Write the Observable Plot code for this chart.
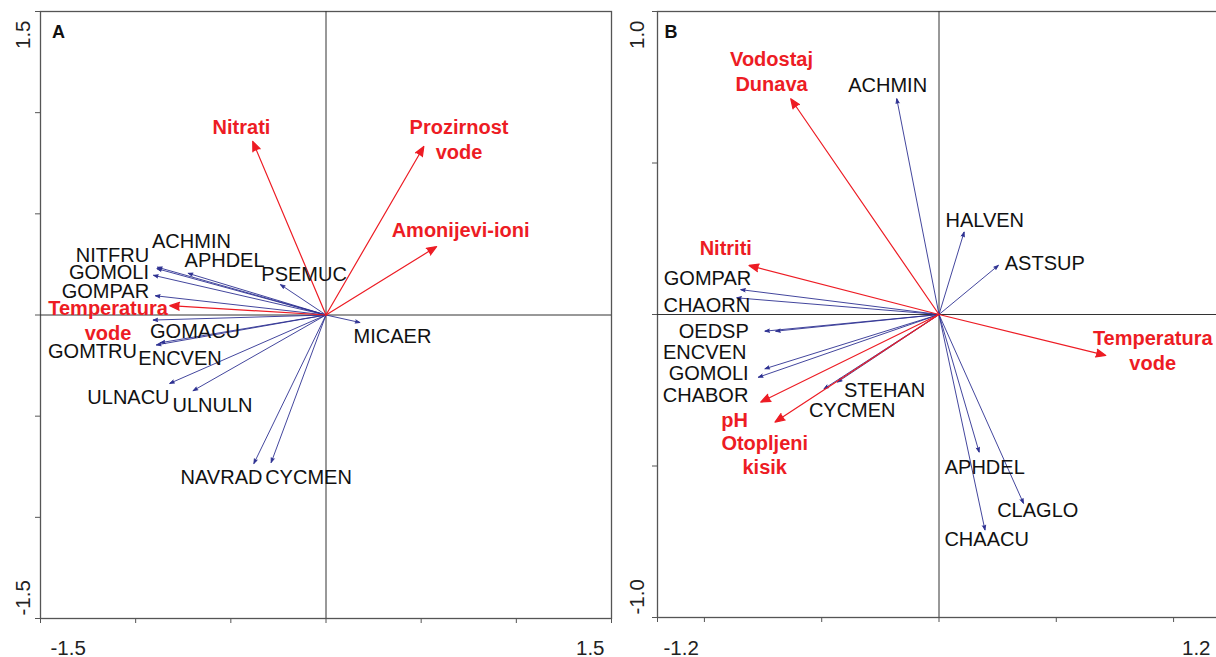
<!DOCTYPE html>
<html>
<head>
<meta charset="utf-8">
<script src="https://cdn.jsdelivr.net/npm/d3@7"></script>
<script src="https://cdn.jsdelivr.net/npm/@observablehq/plot@0.6"></script>
<style>
  html, body { margin: 0; padding: 0; background: #fff; width: 1216px; height: 657px; overflow: hidden; position: relative; }
  .panel { position: absolute; top: 0; height: 657px; }
  .panel svg { max-width: none !important; display: block; }
  #panelA { left: 0; width: 620px; }
  #panelB { left: 620px; width: 605px; }
</style>
</head>
<body>
<div id="panelA" class="panel"></div>
<div id="panelB" class="panel"></div>
<script>
// ---- Panel A: species vectors (tip x, y) and label anchors (lx, ly), axis units ----
const speciesA = [
  { name: "ACHMIN", x: -0.885, y: 0.236, lx: -0.707, ly: 0.365 },
  { name: "NITFRU", x: -0.888, y: 0.229, lx: -1.122, ly: 0.293 },
  { name: "GOMOLI", x: -0.906, y: 0.196, lx: -1.140, ly: 0.212 },
  { name: "APHDEL", x: -0.724, y: 0.206, lx: -0.533, ly: 0.271 },
  { name: "PSEMUC", x: -0.239, y: 0.150, lx: -0.115, ly: 0.202 },
  { name: "GOMPAR", x: -0.896, y: 0.095, lx: -1.159, ly: 0.118 },
  { name: "GOMACU", x: -0.908, y: -0.025, lx: -0.688, ly: -0.080 },
  { name: "GOMTRU", x: -0.891, y: -0.148, lx: -1.227, ly: -0.179 },
  { name: "ENCVEN", x: -0.870, y: -0.137, lx: -0.767, ly: -0.214 },
  { name: "ULNACU", x: -0.821, y: -0.338, lx: -1.038, ly: -0.406 },
  { name: "ULNULN", x: -0.698, y: -0.374, lx: -0.596, ly: -0.446 },
  { name: "NAVRAD", x: -0.379, y: -0.734, lx: -0.549, ly: -0.804 },
  { name: "CYCMEN", x: -0.288, y: -0.729, lx: -0.092, ly: -0.804 },
  { name: "MICAER", x: 0.178, y: -0.037, lx: 0.349, ly: -0.107 }
];

// ---- Panel A: environmental variables ----
const envA = [
  { name: "Nitrati", x: -0.385, y: 0.858, lx: -0.444, ly: 0.931 },
  { name: "Prozirnost\nvode", x: 0.514, y: 0.833, lx: 0.699, ly: 0.871 },
  { name: "Amonijevi-ioni", x: 0.581, y: 0.338, lx: 0.707, ly: 0.422 },
  { name: "Temperatura\nvode", x: -0.821, y: 0.046, lx: -1.145, ly: -0.023 }
];

// ---- Panel B: species vectors ----
const speciesB = [
  { name: "ACHMIN", x: -0.180, y: 0.712, lx: -0.219, ly: 0.754 },
  { name: "HALVEN", x: 0.107, y: 0.272, lx: 0.195, ly: 0.310 },
  { name: "ASTSUP", x: 0.253, y: 0.162, lx: 0.451, ly: 0.167 },
  { name: "GOMPAR", x: -0.845, y: 0.082, lx: -0.987, ly: 0.120 },
  { name: "CHAORN", x: -0.862, y: 0.055, lx: -0.990, ly: 0.028 },
  { name: "OEDSP", x: -0.696, y: -0.055, lx: -0.960, ly: -0.056 },
  { name: "ENCVEN", x: -0.742, y: -0.055, lx: -0.999, ly: -0.125 },
  { name: "GOMOLI", x: -0.742, y: -0.179, lx: -0.982, ly: -0.195 },
  { name: "CHABOR", x: -0.770, y: -0.207, lx: -0.995, ly: -0.267 },
  { name: "STEHAN", x: -0.433, y: -0.223, lx: -0.232, ly: -0.251 },
  { name: "CYCMEN", x: -0.490, y: -0.245, lx: -0.370, ly: -0.317 },
  { name: "APHDEL", x: 0.171, y: -0.454, lx: 0.195, ly: -0.504 },
  { name: "CLAGLO", x: 0.360, y: -0.623, lx: 0.421, ly: -0.647 },
  { name: "CHAACU", x: 0.196, y: -0.711, lx: 0.203, ly: -0.744 }
];

// ---- Panel B: environmental variables ----
const envB = [
  { name: "Vodostaj\nDunava", x: -0.632, y: 0.712, lx: -0.714, ly: 0.805 },
  { name: "Nitriti", x: -0.810, y: 0.162, lx: -0.909, ly: 0.221 },
  { name: "Temperatura\nvode", x: 0.711, y: -0.135, lx: 0.911, ly: -0.116 },
  { name: "pH", x: -0.760, y: -0.289, lx: -0.871, ly: -0.347 },
  { name: "Otopljeni\nkisik", x: -0.699, y: -0.355, lx: -0.743, ly: -0.462 }
];

// ---- Axis domains and tick positions ----
const domainA = [-1.5, 1.5];
const ticksA = [-1.5, -1, -0.5, 0, 0.5, 1, 1.5];
const domainBX = [-1.2, 1.2];
const domainBY = [-1, 1];
const ticksBX = [-1.2, -1, -0.5, 0, 0.5, 1, 1.2];
const ticksBY = [-1, -0.5, 0, 0.5, 1];

const BLUE = "#2e3192";
const RED = "#ed1c24";
const LINE = "#555555";
const INK = "#111111";
const FONT = "'Liberation Sans', Arial, Helvetica, sans-serif";

function biplot(o) {
  const fmt = (v) => v.toFixed(1);
  const tickText = { fontSize: 20.5, fill: "#222", lineAnchor: "middle" };
  return Plot.plot({
    width: o.width,
    height: 657,
    marginLeft: o.ml,
    marginRight: o.mr,
    marginTop: 11,
    marginBottom: o.mb,
    x: { domain: o.xDomain, label: null },
    y: { domain: o.yDomain, label: null },
    style: { fontFamily: FONT, background: "transparent", overflow: "visible" },
    marks: [
      Plot.frame({ stroke: LINE, strokeWidth: 1.3 }),
      Plot.ruleX([0], { stroke: "#333", strokeWidth: 1 }),
      Plot.ruleY([0], { stroke: "#333", strokeWidth: 1 }),
      Plot.axisX(o.xTicks, { tickSize: 5, tickFormat: () => "", label: null, stroke: LINE }),
      Plot.axisY(o.yTicks, { tickSize: 5, tickFormat: () => "", label: null, stroke: LINE }),
      // species vectors
      Plot.arrow(o.species, {
        x1: 0, y1: 0, x2: "x", y2: "y",
        stroke: BLUE, fill: BLUE, strokeWidth: 0.9,
        headLength: 8, headAngle: 40
      }),
      // environmental vectors
      Plot.arrow(o.env, {
        x1: 0, y1: 0, x2: "x", y2: "y",
        stroke: RED, fill: RED, strokeWidth: 1.2,
        headLength: 13, headAngle: 44
      }),
      Plot.text(o.species, { x: "lx", y: "ly", text: "name", fontSize: 20, fill: INK }),
      Plot.text(o.env, {
        x: "lx", y: "ly", text: "name", fontSize: 20, fontWeight: "bold",
        fill: RED, lineHeight: 1.22
      }),
      // panel letter
      Plot.text([o.letter], {
        frameAnchor: "top-left", textAnchor: "start", lineAnchor: "middle",
        dx: o.letterDx, dy: 20.5, fontSize: 18, fontWeight: "bold", fill: INK
      }),
      // end labels of the horizontal axis
      Plot.text([fmt(o.xDomain[0])], {
        ...tickText, frameAnchor: "bottom-left", textAnchor: "start", dx: o.xl0, dy: o.xdy
      }),
      Plot.text([fmt(o.xDomain[1])], {
        ...tickText, frameAnchor: "bottom-right", textAnchor: "end", dx: o.xl1, dy: o.xdy
      }),
      // end labels of the vertical axis, rotated
      Plot.text([fmt(o.yDomain[1])], {
        ...tickText, frameAnchor: "top-left", textAnchor: "end", rotate: -90, dx: o.ydx, dy: 9
      }),
      Plot.text([fmt(o.yDomain[0])], {
        ...tickText, frameAnchor: "bottom-left", textAnchor: "start", rotate: -90, dx: o.ydx, dy: -3
      })
    ]
  });
}

document.getElementById("panelA").append(biplot({
  letter: "A", width: 620, ml: 40, mr: 9, mb: 39,
  xDomain: domainA, yDomain: domainA, xTicks: ticksA, yTicks: ticksA,
  species: speciesA, env: envA,
  letterDx: 11.5, xl0: 10, xl1: -7, xdy: 29.5, ydx: -17.5
}));

document.getElementById("panelB").append(biplot({
  letter: "B", width: 605, ml: 37, mr: 5, mb: 40,
  xDomain: domainBX, yDomain: domainBY, xTicks: ticksBX, yTicks: ticksBY,
  species: speciesB, env: envB,
  letterDx: 7, xl0: 6, xl1: -10, xdy: 31, ydx: -20
}));
</script>
</body>
</html>
